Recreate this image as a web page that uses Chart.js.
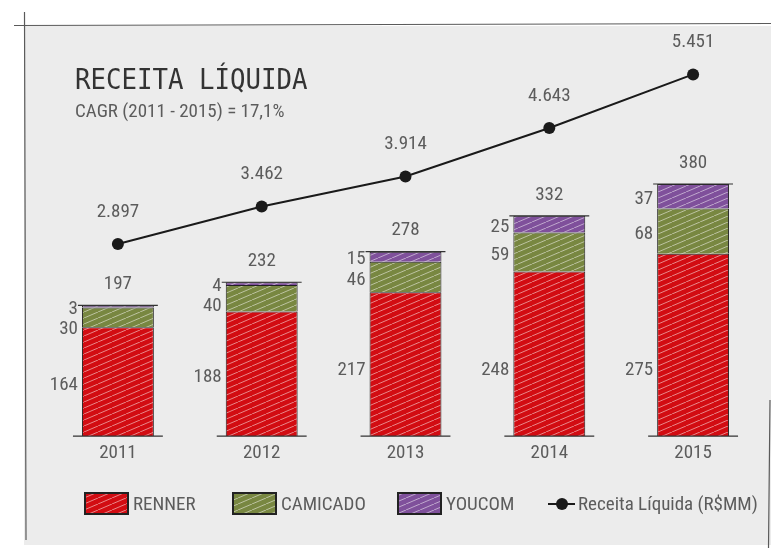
<!DOCTYPE html>
<html>
<head>
<meta charset="utf-8">
<script src="https://cdn.jsdelivr.net/npm/chart.js@4/dist/chart.umd.min.js"></script>
<style>
  html, body { margin: 0; padding: 0; background: #fff; }
  #wrap { width: 771px; height: 548px; position: relative; }
</style>
</head>
<body>
<div id="wrap"><canvas id="receitaChart" width="771" height="548"></canvas></div>
<script>
const years = ['2011', '2012', '2013', '2014', '2015'];
const renner = [164, 188, 217, 248, 275];
const camicado = [30, 40, 46, 59, 68];
const youcom = [3, 4, 15, 25, 37];
const totals = [197, 232, 278, 332, 380];
const receita = [2897, 3462, 3914, 4643, 5451];
const receitaLabels = ['2.897', '3.462', '3.914', '4.643', '5.451'];

const numFont = "'Liberation Sans Narrow', 'Roboto Condensed', Roboto, sans-serif";
const textColor = '#5c5c5c';

// hatched fill, like the hand drawn bars
function hatch(color) {
    const c = document.createElement('canvas');
    c.width = 14; c.height = 6;
    const g = c.getContext('2d');
    g.fillStyle = color;
    g.fillRect(0, 0, 14, 6);
    g.strokeStyle = 'rgba(255,255,255,0.5)';
    g.lineWidth = 1;
    for (let k = -1; k <= 1; k++) {
        g.beginPath();
        g.moveTo(k * 14, 6);
        g.lineTo(k * 14 + 14, 0);
        g.stroke();
    }
    return g.createPattern(c, 'repeat');
}

const frame = {
    id: 'frame',
    beforeDraw(chart) {
        const ctx = chart.ctx;
        ctx.save();
        ctx.fillStyle = '#fff';
        ctx.fillRect(0, 0, chart.width, chart.height);
        ctx.fillStyle = '#ececec';
        ctx.fillRect(24, 26, chart.width - 24, chart.height - 29);
        ctx.strokeStyle = '#5a5a5a';
        ctx.lineWidth = 1.2;
        ctx.beginPath();
        ctx.moveTo(14, 25.5); ctx.lineTo(chart.width, 23.5);
        ctx.moveTo(24.5, 12); ctx.lineTo(26, 540);
        ctx.moveTo(770, 400); ctx.lineTo(768.5, 548);
        ctx.stroke();

        // title + subtitle
        ctx.fillStyle = '#333';
        ctx.textBaseline = 'alphabetic';
        ctx.save();
        ctx.translate(75, 89);
        ctx.scale(0.92, 1);
        ctx.font = "28px 'DejaVu Sans Mono', monospace";
        ctx.fillText('RECEITA LÍQUIDA', 0, 0);
        ctx.restore();
        ctx.fillStyle = textColor;
        ctx.font = '19px ' + numFont;
        ctx.fillText('CAGR (2011 - 2015) = 17,1%', 75, 117);

        // legend
        const items = [
            { x: 85, color: '#d20c12', text: 'RENNER' },
            { x: 233, color: '#788741', text: 'CAMICADO' },
            { x: 398, color: '#7f509b', text: 'YOUCOM' }
        ];
        items.forEach(it => {
            ctx.fillStyle = hatch(it.color);
            ctx.fillRect(it.x, 493, 43, 21);
            ctx.strokeStyle = '#222';
            ctx.lineWidth = 2;
            ctx.strokeRect(it.x, 493, 43, 21);
            ctx.fillStyle = textColor;
            ctx.textBaseline = 'middle';
            ctx.fillText(it.text, it.x + 48, 505);
        });
        ctx.strokeStyle = '#1a1a1a';
        ctx.lineWidth = 2;
        ctx.beginPath();
        ctx.moveTo(548, 504); ctx.lineTo(575, 504);
        ctx.stroke();
        ctx.fillStyle = '#1a1a1a';
        ctx.beginPath();
        ctx.arc(562, 504, 6, 0, Math.PI * 2);
        ctx.fill();
        ctx.fillStyle = textColor;
        ctx.fillText('Receita Líquida (R$MM)', 578, 505);
        ctx.restore();
    }
};

const valueLabels = {
    id: 'valueLabels',
    afterDatasetsDraw(chart) {
        const ctx = chart.ctx;
        const yScale = chart.scales.y;
        ctx.save();
        ctx.font = '19px ' + numFont;
        ctx.fillStyle = textColor;
        ctx.textBaseline = 'middle';
        const segs = [youcom, camicado, renner];
        years.forEach((yr, j) => {
            const top = chart.getDatasetMeta(2).data[j];
            const bottom = chart.getDatasetMeta(0).data[j];
            const left = top.x - top.width / 2;
            const right = top.x + top.width / 2;

            // little tick lines at top and base of each bar
            ctx.strokeStyle = '#333';
            ctx.lineWidth = 1.2;
            ctx.beginPath();
            ctx.moveTo(left - 9, bottom.base); ctx.lineTo(right + 9, bottom.base);
            ctx.moveTo(left - 4, top.y); ctx.lineTo(right + 4, top.y);
            ctx.stroke();

            ctx.textAlign = 'center';
            ctx.fillText(String(totals[j]), top.x, top.y - 21);

            ctx.textAlign = 'right';
            let prev = -Infinity;
            [2, 1, 0].forEach((di, k) => {
                const el = chart.getDatasetMeta(di).data[j];
                let y = (el.y + el.base) / 2 + 3;
                if (di === 0) y = Math.max(y, yScale.getPixelForValue(100));
                y = Math.max(y, prev + 20);
                prev = y;
                ctx.fillText(String(segs[k][j]), left - 4, y);
            });
        });

        ctx.textAlign = 'center';
        chart.getDatasetMeta(3).data.forEach((pt, j) => {
            ctx.fillText(receitaLabels[j], pt.x, pt.y - 32);
        });
        ctx.restore();
    }
};

new Chart(document.getElementById('receitaChart').getContext('2d'), {
    data: {
        labels: years,
        datasets: [
            { type: 'bar', label: 'RENNER', data: renner, backgroundColor: hatch('#d20c12'), borderColor: '#222', borderWidth: 1, yAxisID: 'y', order: 2 },
            { type: 'bar', label: 'CAMICADO', data: camicado, backgroundColor: hatch('#788741'), borderColor: '#222', borderWidth: 1, yAxisID: 'y', order: 2 },
            { type: 'bar', label: 'YOUCOM', data: youcom, backgroundColor: hatch('#7f509b'), borderColor: '#222', borderWidth: 1, yAxisID: 'y', order: 2 },
            { type: 'line', label: 'Receita Líquida (R$MM)', data: receita, yAxisID: 'y2', borderColor: '#1a1a1a', borderWidth: 2,
              pointRadius: 6, pointHoverRadius: 6, pointBackgroundColor: '#1a1a1a', pointBorderWidth: 0, tension: 0, order: 1 }
        ]
    },
    options: {
        responsive: false,
        animation: false,
        layout: { padding: { top: 38, left: 46, right: 5, bottom: 77 } },
        datasets: { bar: { categoryPercentage: 1, barPercentage: 0.5 } },
        plugins: { legend: { display: false }, tooltip: { enabled: false } },
        scales: {
            x: {
                stacked: true,
                grid: { display: false, drawTicks: false },
                border: { display: false },
                ticks: { color: textColor, padding: 6, font: { family: numFont, size: 19 } }
            },
            y: { stacked: true, display: false, min: 0, max: 600 },
            y2: { display: false, min: 0, max: 6000 }
        }
    },
    plugins: [frame, valueLabels]
});
</script>
</body>
</html>
